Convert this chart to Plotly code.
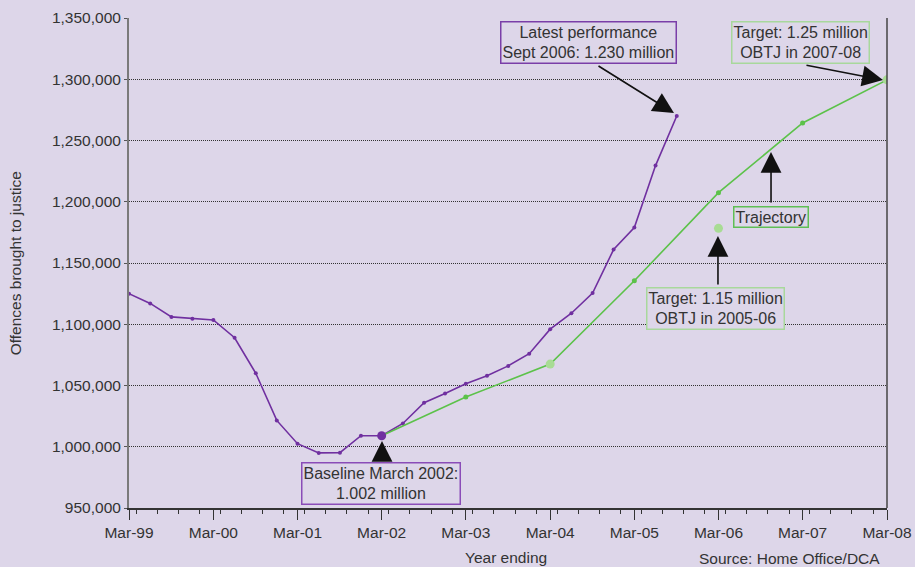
import pandas as pd
import plotly.graph_objects as go

# ---- data ----
actual_dates = list(pd.date_range("1999-03-01", periods=27, freq="3MS").strftime("%Y-%m-%d"))
actual_values = [1125000, 1117000, 1106000, 1104500, 1103500, 1089000, 1060000, 1021500,
                 1002500, 995000, 995200, 1009000, 1009000, 1019000, 1036000, 1043500,
                 1051500, 1058000, 1066000, 1076000, 1096000, 1109000, 1125500, 1161000,
                 1179000, 1229500, 1270000]

trajectory_dates = ["2002-03-01", "2003-03-01", "2004-03-01", "2005-03-01",
                    "2006-03-01", "2007-03-01", "2008-03-01"]
trajectory_values = [1009000, 1040600, 1067500, 1135500, 1207400, 1264300, 1299500]

target_dates = ["2004-03-01", "2006-03-01", "2008-03-01"]
target_values = [1067500, 1178300, 1299500]

baseline_date = ["2002-03-01"]
baseline_value = [1009000]

y_ticks = list(range(950000, 1350001, 50000))

PURPLE = "#7030a0"
GREEN = "#5cc24a"
LIGHT_GREEN = "#a8dc94"
BG = "#ddd6e9"
FONT = "Liberation Sans, Arial, sans-serif"
TXT = "#333333"
FS = 15.5
FS_BOX = 16

fig = go.Figure()
fig.add_trace(go.Scatter(x=actual_dates, y=actual_values, mode="lines+markers",
                         line=dict(color=PURPLE, width=1.6),
                         marker=dict(color=PURPLE, size=4), showlegend=False))
fig.add_trace(go.Scatter(x=trajectory_dates, y=trajectory_values, mode="lines+markers",
                         line=dict(color=GREEN, width=1.6),
                         marker=dict(color=GREEN, size=5), showlegend=False))
fig.add_trace(go.Scatter(x=target_dates, y=target_values, mode="markers",
                         marker=dict(color=LIGHT_GREEN, size=9), showlegend=False))
fig.add_trace(go.Scatter(x=baseline_date, y=baseline_value, mode="markers",
                         marker=dict(color=PURPLE, size=9), showlegend=False))

fig.update_layout(
    width=915, height=567, autosize=False,
    margin=dict(l=129, r=28, t=18, b=59, pad=0),
    paper_bgcolor=BG, plot_bgcolor=BG,
    font=dict(family=FONT, size=FS, color=TXT),
    showlegend=False,
)
fig.update_xaxes(
    type="date", range=["1999-03-01", "2008-03-01"], automargin=False,
    tick0="1999-03-01", dtick="M12", tickformat="%b-%y",
    ticks="outside", ticklen=10, tickwidth=1, tickcolor="#333",
    minor=dict(ticks="outside", ticklen=4, dtick="M3", tickcolor="#333", showgrid=False),
    showgrid=False, showline=True, linecolor="#333", linewidth=1.5,
    tickfont=dict(size=FS, color=TXT), zeroline=False,
)
fig.update_yaxes(
    range=[950000, 1350000], tickvals=y_ticks, tickformat=",d", automargin=False,
    ticks="outside", ticklen=3, tickcolor="#555",
    showgrid=True, gridcolor="#333", griddash="1px,1px", gridwidth=1,
    showline=True, linecolor="#7a7a7a", linewidth=2,
    tickfont=dict(size=FS, color=TXT), zeroline=False,
)

# right border
fig.add_shape(type="line", xref="paper", yref="paper", x0=1, x1=1, y0=0, y1=1,
              line=dict(color="#444", width=1.5))

def box(text, x, y, border):
    fig.add_annotation(text=text, xref="paper", yref="paper", x=x, y=y,
                       xanchor="center", yanchor="middle", showarrow=False,
                       bordercolor=border, borderwidth=1.5, borderpad=1,
                       bgcolor=BG, font=dict(size=FS_BOX, color=TXT), align="center")

def arrow(x, y, ax, ay):
    fig.add_annotation(text="", xref="paper", yref="paper", x=x, y=y, ax=ax, ay=ay,
                       showarrow=True, arrowhead=2, arrowsize=2.6, arrowwidth=1.6,
                       arrowcolor="#111")

box("Latest performance<br>Sept 2006: 1.230 million", 0.606, 0.949, "#7a3ea8")
box("Target: 1.25 million<br>OBTJ in 2007-08", 0.886, 0.949, "#a8d89c")
box("Trajectory", 0.847, 0.593, "#5fbf55")
box("Target: 1.15 million<br>OBTJ in 2005-06", 0.774, 0.407, "#a8d89c")
box("Baseline March 2002:<br>1.002 million", 0.333, 0.051, "#8a4cb8")

arrow(0.719, 0.806, -77, -48)
arrow(0.9947, 0.8735, -78, -15)
arrow(0.847, 0.7265, 0, 52)
arrow(0.777, 0.555, 0, 50)
arrow(0.3338, 0.1367, 0, 20)

fig.add_annotation(text="Offences brought to justice", xref="paper", yref="paper",
                   x=-0.150, y=0.5, textangle=-90, showarrow=False,
                   xanchor="center", yanchor="middle", font=dict(size=FS, color=TXT))
fig.add_annotation(text="Year ending", xref="paper", yref="paper",
                   x=0.497, y=-0.102, showarrow=False,
                   xanchor="center", yanchor="middle", font=dict(size=FS, color=TXT))
fig.add_annotation(text="Source: Home Office/DCA", xref="paper", yref="paper",
                   x=0.872, y=-0.104, showarrow=False,
                   xanchor="center", yanchor="middle", font=dict(size=FS, color=TXT))

fig.write_html("out.html", config={"displayModeBar": False},
               post_script="document.body.style.margin='0';document.body.style.padding='0';")
